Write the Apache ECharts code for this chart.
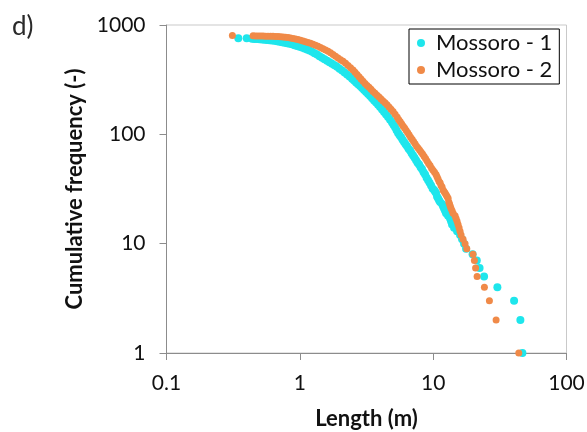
<!DOCTYPE html>
<html>
<head>
<meta charset="utf-8">
<script src="https://cdn.jsdelivr.net/npm/echarts@6/dist/echarts.min.js"></script>
<style>
html,body{margin:0;padding:0;background:#fff;}
#chart{width:587px;height:432px;}
</style>
</head>
<body>
<div id="chart"></div>
<script>
// Mossoro - 1 (cyan): length (m) and cumulative frequency (-)
const cyanLength = [
  0.3456,0.3996,0.4379,0.4572,0.4774,0.4985,0.5205,0.5435,0.5675,0.5925,
  0.6186,0.6459,0.6745,0.7043,0.7354,0.7678,0.8017,0.8371,0.8740,0.9125,
  0.9528,0.995,1.039,1.084,1.132,1.182,1.235,1.289,1.346,1.405,
  1.467,1.532,1.600,1.670,1.744,1.821,1.901,1.985,2.073,2.164,
  2.260,2.360,2.464,2.550,2.640,2.733,2.829,2.928,3.031,3.138,
  3.248,3.362,3.480,3.603,3.730,3.861,3.997,4.137,4.282,4.433,
  4.589,4.750,4.917,5.046,5.178,5.314,5.454,5.597,5.744,5.895,
  6.050,6.209,6.372,6.540,6.711,6.887,7.068,7.253,7.443,7.639,
  7.840,8.046,8.257,8.474,8.696,8.924,9.158,9.397,9.643,9.898,
  10.16,10.33,10.51,10.69,10.88,11.07,11.27,11.66,11.86,12.07,
  12.28,12.50,12.94,13.39,13.62,13.86,14.35,15.11,15.91,16.48,
  17.05,17.65,19.75,21.24,22.29,24.09,30.31,40.45,45.10,46.70];
const cyanFreq = [
  757,755,750,746,743,740,737,734,731,726,
  722,716,710,703,696,689,682,673,665,654,
  644,632,621,609,597,583,570,553,536,519,
  502,487,472,457,442,428,414,399,384,368,
  353,338,323,310,298,287,277,266,255,244,
  234,224,214,204,195,186,178,169,160,152,
  144,136,128,122,116,109,103,98,94,89,
  85,81,78,74,71,67,64,61,58,55,
  53,50,48,45,43,40,38,36,34,32,
  31,30,29,27,26,25,24,23,22,21,
  20,19,18,17,16,15,14,13,12,11,
  10,9,8,7,6,5,4,3,2,1];

// Mossoro - 2 (orange)
const orangeLength = [
  0.312,0.446,0.466,0.486,0.508,0.530,0.553,0.577,0.603,0.629,
  0.657,0.686,0.716,0.748,0.781,0.816,0.852,0.889,0.928,0.969,
  1.012,1.057,1.103,1.152,1.203,1.256,1.311,1.369,1.430,1.493,
  1.559,1.628,1.700,1.775,1.853,1.935,2.021,2.110,2.203,2.300,
  2.401,2.507,2.595,2.686,2.780,2.878,2.979,3.084,3.193,3.305,
  3.421,3.541,3.666,3.795,3.929,4.067,4.210,4.357,4.510,4.669,
  4.833,5.003,5.179,5.361,5.502,5.646,5.794,5.946,6.102,6.262,
  6.427,6.595,6.768,6.946,7.128,7.315,7.507,7.704,7.906,8.113,
  8.326,8.545,8.769,8.999,9.235,9.478,9.726,9.98,10.24,10.51,
  10.69,10.88,11.07,11.27,11.46,11.66,11.86,12.07,12.28,12.50,
  12.72,12.94,13.10,13.27,13.44,13.62,13.86,14.10,14.60,14.85,
  15.11,15.37,15.64,15.91,16.19,16.76,17.35,17.87,19.9,20.38,
  20.80,21.35,24.22,26.41,29.65,43.87];
const orangeFreq = [
  800,796,795,794,793,792,791,790,789,787,
  785,783,780,777,772,767,761,754,746,738,
  727,715,704,693,680,667,653,640,624,608,
  592,576,557,538,519,500,482,465,446,427,
  407,388,370,353,337,321,306,292,280,269,
  258,247,237,228,219,211,202,194,186,178,
  170,162,153,144,137,131,125,119,114,109,
  104,99,94,90,86,82,78,75,72,69,
  66,63,60,57,54,52,49,47,45,43,
  41,39,37,36,34,33,31,30,29,28,
  27,26,24,23,22,21,20,19,18,17,
  16,15,14,13,12,11,10,9,8,7,
  6,5,4,3,2,1];

const seriesNames = ['Mossoro - 1', 'Mossoro - 2'];
const xTitle = 'Length (m)';
const yTitle = 'Cumulative frequency (-)';
const panelLabel = 'd)';

const zip = (a, b) => a.map((v, i) => [v, b[i]]);

const FONT = 'Lato, "Open Sans", sans-serif';
const chart = echarts.init(document.getElementById('chart'), null, {renderer: 'canvas'});
chart.setOption({
  animation: false,
  backgroundColor: '#ffffff',
  title: {
    text: panelLabel, left: 7, top: 9,
    textStyle: {fontFamily: FONT, fontSize: 26, fontWeight: 'normal', color: '#2a2a2a'}
  },
  grid: {
    left: 166.5, right: 20.5, top: 25, bottom: 79,
    outerBoundsMode: 'none', containLabel: false,
    show: true, borderColor: '#C9C9C9', borderWidth: 1, backgroundColor: '#fff'
  },
  legend: {
    orient: 'vertical', left: 409, top: 29,
    padding: [2, 7, 2, 8], itemGap: 3,
    itemWidth: 8, itemHeight: 8, icon: 'circle',
    borderColor: '#000', borderWidth: 1, backgroundColor: '#fff',
    textStyle: {fontFamily: FONT, fontSize: 22, color: '#111', lineHeight: 24, padding: [0, 0, 0, 6]},
    data: seriesNames
  },
  xAxis: {
    type: 'log', logBase: 10, min: 0.1, max: 100,
    name: xTitle, nameLocation: 'middle', nameGap: 55,
    nameTextStyle: {fontFamily: FONT, fontSize: 22, fontWeight: 'bold', color: '#111'},
    axisLine: {show: true, lineStyle: {color: '#8C8C8C', width: 1}},
    axisTick: {show: true, inside: false, length: 7, lineStyle: {color: '#8C8C8C'}},
    minorTick: {show: false},
    splitLine: {show: false},
    axisLabel: {fontFamily: FONT, fontSize: 21, color: '#111', margin: 20,
      formatter: v => String(+v.toPrecision(6))}
  },
  yAxis: {
    type: 'log', logBase: 10, min: 1, max: 1000,
    name: yTitle, nameLocation: 'middle', nameGap: 76, nameRotate: 90,
    nameTextStyle: {fontFamily: FONT, fontSize: 22, fontWeight: 'bold', color: '#111'},
    axisLine: {show: true, lineStyle: {color: '#8C8C8C', width: 1}},
    axisTick: {show: true, inside: false, length: 7, lineStyle: {color: '#8C8C8C'}},
    minorTick: {show: false},
    splitLine: {show: false},
    axisLabel: {fontFamily: FONT, fontSize: 21, color: '#111', margin: 21,
      formatter: v => String(+v.toPrecision(6))}
  },
  series: [
    {
      name: seriesNames[0], type: 'scatter', symbol: 'circle', symbolSize: 8,
      itemStyle: {color: '#1EE6EC', opacity: 1},
      data: zip(cyanLength, cyanFreq), z: 2
    },
    {
      name: seriesNames[1], type: 'scatter', symbol: 'circle', symbolSize: 7,
      itemStyle: {color: '#F08A48', opacity: 1},
      data: zip(orangeLength, orangeFreq), z: 3
    }
  ]
});
</script>
</body>
</html>
